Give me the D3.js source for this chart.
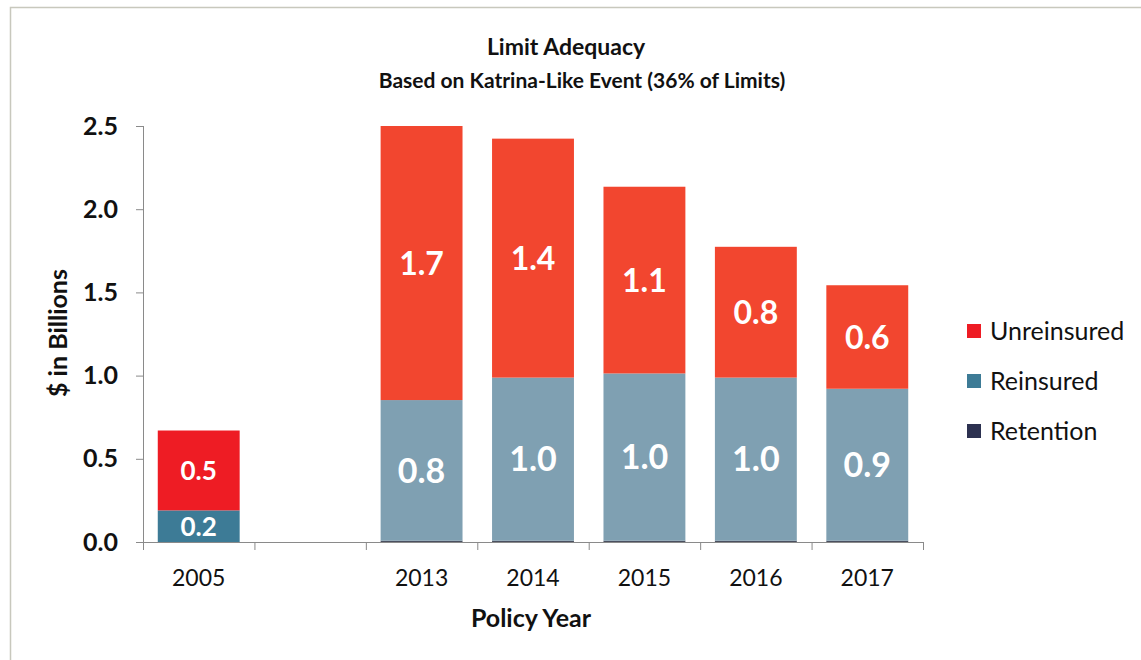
<!DOCTYPE html>
<html>
<head>
<meta charset="utf-8">
<script src="https://cdn.jsdelivr.net/npm/d3@7"></script>
<style>
  html, body { margin: 0; padding: 0; background: #fff; }
  svg { display: block; font-family: Lato, "Open Sans", sans-serif; }
</style>
</head>
<body>
<svg id="chart" width="1141" height="660"></svg>
<script>
// ---- data ----
const categories = ["2005", "", "2013", "2014", "2015", "2016", "2017"];
const retention   = [0.00, null, 0.008, 0.008, 0.008, 0.008, 0.008];
const reinsured   = [0.19, null, 0.845, 0.98, 1.005, 0.98, 0.913];
const unreinsured = [0.48, null, 1.647, 1.436, 1.122, 0.786, 0.622];
const reinsuredLabels   = ["0.2", "", "0.8", "1.0", "1.0", "1.0", "0.9"];
const unreinsuredLabels = ["0.5", "", "1.7", "1.4", "1.1", "0.8", "0.6"];
const seriesNames = ["Retention", "Reinsured", "Unreinsured"];
const yTicks = [0, 0.5, 1.0, 1.5, 2.0, 2.5];

// ---- styles ----
const colors = {
  Unreinsured: "#ee1c24",
  Reinsured: "#3d7b96",
  Retention: "#2c3150"
};
// later years appear in a lighter tone in the source
const lightColors = {
  Unreinsured: "#f2462f",
  Reinsured: "#7fa0b2",
  Retention: "#4a5060"
};

(function () {
const svg = d3.select("#chart");

// border
svg.append("path")
  .attr("d", "M10.5,1141 L10.5,7.5 L1141,7.5")
  .attr("fill", "none").attr("stroke", "#c8c8bd").attr("stroke-width", 1.5);

const pLeft = 143, pRight = 923, pTop = 126, pBottom = 542;
const x = d3.scaleBand().domain(categories).range([pLeft, pRight]).padding(0);
const y = d3.scaleLinear().domain([0, 2.5]).range([pBottom, pTop]);
const barFrac = 0.735;
const bw = x.step() * barFrac;

// rows for stacking
const rows = categories.map((c, i) => ({
  cat: c, idx: i,
  Retention: retention[i] || 0,
  Reinsured: reinsured[i] || 0,
  Unreinsured: unreinsured[i] || 0,
  empty: reinsured[i] == null
})).filter(r => !r.empty);

const stacked = d3.stack().keys(seriesNames)(rows);

const g = svg.append("g");
stacked.forEach(layer => {
  g.selectAll(null).data(layer).enter().append("rect")
    .attr("x", d => x(d.data.cat) + (x.step() - bw) / 2)
    .attr("width", bw)
    .attr("y", d => y(d[1]))
    .attr("height", d => Math.max(0, y(d[0]) - y(d[1])))
    .attr("fill", d => (d.data.idx === 0 ? colors : lightColors)[layer.key]);
});

// value labels
const labelLayers = [
  {key: "Reinsured", labels: reinsuredLabels},
  {key: "Unreinsured", labels: unreinsuredLabels}
];
labelLayers.forEach(L => {
  const layer = stacked.find(s => s.key === L.key);
  g.selectAll(null).data(layer).enter().append("text")
    .attr("x", d => x(d.data.cat) + x.step() / 2)
    .attr("y", d => (y(d[0]) + y(d[1])) / 2)
    .attr("dy", "0.36em")
    .attr("text-anchor", "middle")
    .attr("fill", "#fff")
    .attr("font-weight", "bold")
    .attr("font-size", d => d.data.idx === 0 ? 26 : (L.key === "Reinsured" ? 34 : 32))
    .text(d => L.labels[d.data.idx]);
});

// y axis
const yAxis = d3.axisLeft(y).tickValues(yTicks).tickFormat(d3.format(".1f")).tickSize(7).tickPadding(18);
const yg = svg.append("g").attr("transform", `translate(${pLeft},0)`).call(yAxis);
yg.select(".domain").attr("stroke", "#8a8a8a").attr("d", `M0.5,${pTop}V${pBottom}`);
yg.selectAll(".tick line").attr("stroke", "#8a8a8a");
yg.selectAll(".tick text").attr("font-size", 25).attr("font-weight", "bold").attr("fill", "#111")
  .attr("font-family", "Lato, sans-serif");

// x axis: ticks at category boundaries
const xg = svg.append("g").attr("transform", `translate(0,${pBottom})`);
xg.append("line").attr("x1", pLeft).attr("x2", pRight + 1).attr("y1", 0.5).attr("y2", 0.5).attr("stroke", "#8a8a8a");
const bounds = categories.map(c => x(c)).concat([pRight]);
xg.selectAll(null).data(bounds).enter().append("line")
  .attr("x1", d => d + 0.5).attr("x2", d => d + 0.5).attr("y1", 0).attr("y2", 8)
  .attr("stroke", "#8a8a8a");
xg.selectAll(null).data(categories).enter().append("text")
  .attr("x", d => x(d) + x.step() / 2)
  .attr("y", 36)
  .attr("dy", "0.36em")
  .attr("text-anchor", "middle")
  .attr("font-size", 23)
  .attr("fill", "#111")
  .text(d => d);

// axis titles
svg.append("text").attr("x", 531).attr("y", 618).attr("dy", "0.36em")
  .attr("text-anchor", "middle").attr("font-size", 25).attr("font-weight", "bold").attr("fill", "#111")
  .text("Policy Year");
svg.append("text").attr("transform", "translate(58,333) rotate(-90)").attr("dy", "0.36em")
  .attr("text-anchor", "middle").attr("font-size", 25).attr("font-weight", "bold").attr("fill", "#111")
  .text("$ in Billions");

// titles
svg.append("text").attr("x", 566).attr("y", 47).attr("dy", "0.36em")
  .attr("text-anchor", "middle").attr("font-size", 23).attr("font-weight", "bold").attr("fill", "#111")
  .text("Limit Adequacy");
svg.append("text").attr("x", 582).attr("y", 80).attr("dy", "0.36em")
  .attr("text-anchor", "middle").attr("font-size", 21).attr("font-weight", "bold").attr("fill", "#111")
  .text("Based on Katrina-Like Event (36% of Limits)");

// legend
const legendItems = ["Unreinsured", "Reinsured", "Retention"];
const lg = svg.append("g").attr("transform", "translate(967,331)");
legendItems.forEach((k, i) => {
  const row = lg.append("g").attr("transform", `translate(0,${i * 50})`);
  row.append("rect").attr("x", 0).attr("y", -7).attr("width", 14).attr("height", 14).attr("fill", colors[k]);
  row.append("text").attr("x", 23).attr("y", 0).attr("dy", "0.36em")
    .attr("font-size", 25).attr("fill", "#111").text(k);
});
})();
</script>
</body>
</html>
